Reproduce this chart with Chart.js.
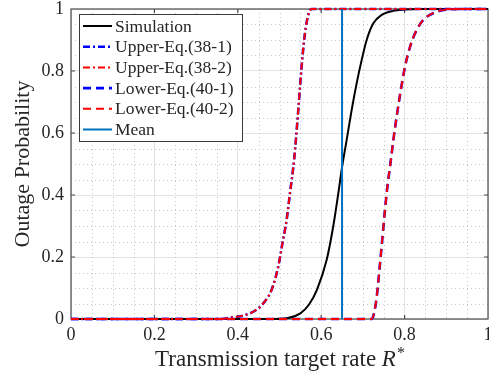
<!DOCTYPE html>
<html>
<head>
<meta charset="utf-8">
<script src="https://cdn.jsdelivr.net/npm/chart.js@4.4.0/dist/chart.umd.min.js"></script>
<style>
  html, body { margin: 0; padding: 0; background: #fff; }
  #chart { display: block; }
</style>
</head>
<body>
<canvas id="chart" width="489" height="376"></canvas>
<script>
// values
const simX = [0, 0.48, 0.52, 0.55, 0.57, 0.59, 0.613, 0.629, 0.641, 0.65, 0.661, 0.673, 0.685, 0.697, 0.709, 0.725, 0.745, 0.773, 0.8, 0.83, 1];
const simY = [0, 0, 0.003, 0.018, 0.045, 0.095, 0.19, 0.3, 0.405, 0.49, 0.577, 0.674, 0.76, 0.835, 0.9, 0.954, 0.981, 0.994, 0.998, 1, 1];
const upperX = [0, 0.36, 0.381, 0.41, 0.429, 0.445, 0.461, 0.481, 0.497, 0.507, 0.517, 0.525, 0.535, 0.545, 0.553, 0.561, 0.569, 0.577, 1];
const upperY = [0, 0, 0.004, 0.01, 0.018, 0.03, 0.05, 0.094, 0.169, 0.244, 0.319, 0.405, 0.513, 0.674, 0.814, 0.921, 0.981, 1, 1];
const lowerX = [0, 0.721, 0.727, 0.733, 0.739, 0.746, 0.753, 0.759, 0.765, 0.773, 0.781, 0.791, 0.801, 0.813, 0.827, 0.845, 0.877, 0.909, 0.94, 1];
const lowerY = [0, 0, 0.02, 0.07, 0.15, 0.25, 0.352, 0.43, 0.491, 0.577, 0.653, 0.739, 0.814, 0.878, 0.927, 0.965, 0.991, 0.999, 1, 1];
const meanRate = 0.65;
const seriesNames = ['Simulation', 'Upper-Eq.(38-1)', 'Upper-Eq.(38-2)', 'Lower-Eq.(40-1)', 'Lower-Eq.(40-2)', 'Mean'];
const xTitleParts = ['Transmission target rate ', 'R', '*'];
const yTitle = 'Outage Probability';

const SERIF = '"Liberation Serif", "DejaVu Serif", serif';
const dashDot = [7, 3, 2, 3];
const dashed = [8, 5];

function toPoints(xs, ys) {
    return xs.map((x, i) => ({x: x, y: ys[i]}));
}

function tickText(v) {
    return String(Number(v.toFixed(2)));
}

const frame = {
    id: 'frame',
    beforeDatasetsDraw(chart) {
        const {ctx, chartArea: a, scales: {x, y}} = chart;
        ctx.save();
        // minor dotted grid
        ctx.strokeStyle = '#c8c8c8';
        ctx.lineWidth = 1;
        ctx.setLineDash([1, 3]);
        for (let i = 1; i < 20; i++) {
            if (i % 4 === 0) continue;
            const px = Math.round(x.getPixelForValue(i * 0.05)) + 0.5;
            const py = Math.round(y.getPixelForValue(i * 0.05)) + 0.5;
            ctx.beginPath();
            ctx.moveTo(px, a.top); ctx.lineTo(px, a.bottom);
            ctx.moveTo(a.left, py); ctx.lineTo(a.right, py);
            ctx.stroke();
        }
        ctx.setLineDash([]);
        // box and inward ticks
        ctx.strokeStyle = '#4a4a4a';
        ctx.lineWidth = 1.2;
        ctx.strokeRect(a.left, a.top, a.right - a.left, a.bottom - a.top);
        ctx.beginPath();
        for (let i = 1; i < 5; i++) {
            const px = x.getPixelForValue(i * 0.2);
            const py = y.getPixelForValue(i * 0.2);
            ctx.moveTo(px, a.bottom); ctx.lineTo(px, a.bottom - 4);
            ctx.moveTo(px, a.top); ctx.lineTo(px, a.top + 4);
            ctx.moveTo(a.left, py); ctx.lineTo(a.left + 4, py);
            ctx.moveTo(a.right, py); ctx.lineTo(a.right - 4, py);
        }
        ctx.stroke();
        ctx.restore();
    },
    afterDatasetsDraw(chart) {
        const ctx = chart.ctx;
        const sets = chart.data.datasets;
        const bx = 79, by = 14, bw = 163, bh = 127;
        ctx.save();
        ctx.fillStyle = '#fff';
        ctx.fillRect(bx, by, bw, bh);
        ctx.strokeStyle = '#3a3a3a';
        ctx.lineWidth = 1;
        ctx.strokeRect(bx + 0.5, by + 0.5, bw, bh);
        ctx.font = '17.5px ' + SERIF;
        ctx.textBaseline = 'middle';
        ctx.fillStyle = '#262626';
        sets.forEach((ds, i) => {
            const ly = 26 + i * 20.7;
            ctx.strokeStyle = ds.borderColor;
            ctx.lineWidth = ds.borderWidth;
            ctx.setLineDash(ds.borderDash || []);
            ctx.beginPath();
            ctx.moveTo(83, ly); ctx.lineTo(112, ly);
            ctx.stroke();
            ctx.setLineDash([]);
            ctx.fillText(ds.label, 115, ly + 1);
        });
        ctx.restore();
    },
    afterDraw(chart) {
        const ctx = chart.ctx;
        const a = chart.chartArea;
        ctx.save();
        ctx.fillStyle = '#262626';
        ctx.textBaseline = 'alphabetic';
        const f1 = '23px ' + SERIF, f2 = 'italic 23px ' + SERIF, f3 = '16px ' + SERIF;
        ctx.font = f1; const w1 = ctx.measureText(xTitleParts[0]).width;
        ctx.font = f2; const w2 = ctx.measureText(xTitleParts[1]).width;
        ctx.font = f3; const w3 = ctx.measureText(xTitleParts[2]).width;
        let tx = (a.left + a.right) / 2 - (w1 + w2 + w3) / 2;
        ctx.font = f1; ctx.fillText(xTitleParts[0], tx, 366); tx += w1;
        ctx.font = f2; ctx.fillText(xTitleParts[1], tx, 366); tx += w2 + 1;
        ctx.font = f3; ctx.fillText(xTitleParts[2], tx, 358);
        ctx.restore();
    }
};

const datasets = [
    {label: seriesNames[0], data: toPoints(simX, simY), borderColor: '#000000', borderWidth: 2, order: 6},
    {label: seriesNames[1], data: toPoints(upperX, upperY), borderColor: '#0000ff', borderWidth: 2.6, borderDash: dashDot, order: 5},
    {label: seriesNames[2], data: toPoints(upperX, upperY), borderColor: '#ff0000', borderWidth: 2, borderDash: dashDot, order: 4},
    {label: seriesNames[3], data: toPoints(lowerX, lowerY), borderColor: '#0000ff', borderWidth: 2.6, borderDash: dashed, order: 3},
    {label: seriesNames[4], data: toPoints(lowerX, lowerY), borderColor: '#ff0000', borderWidth: 2, borderDash: dashed, order: 2},
    {label: seriesNames[5], data: [{x: meanRate, y: 0}, {x: meanRate, y: 1}], borderColor: '#0072BD', borderWidth: 2, order: 1}
];
datasets.forEach(ds => {
    ds.pointRadius = 0;
    ds.fill = false;
    ds.clip = false;
    ds.cubicInterpolationMode = 'monotone';
});

new Chart(document.getElementById('chart'), {
    type: 'line',
    data: {datasets: datasets},
    options: {
        responsive: false,
        animation: false,
        events: [],
        layout: {autoPadding: false, padding: {top: 9, right: 1, left: 0, bottom: 0}},
        plugins: {legend: {display: false}, tooltip: {enabled: false}},
        scales: {
            x: {
                type: 'linear', min: 0, max: 1,
                ticks: {stepSize: 0.2, padding: 5, color: '#262626', font: {family: SERIF, size: 18}, maxRotation: 0, callback: tickText},
                grid: {color: '#e3e3e3', lineWidth: 1, drawTicks: false},
                border: {display: false},
                afterFit(scale) {
                    scale.height = 57;
                    scale.paddingLeft = 0;
                    scale.paddingRight = 0;
                }
            },
            y: {
                type: 'linear', min: 0, max: 1,
                ticks: {stepSize: 0.2, padding: 7, color: '#262626', font: {family: SERIF, size: 18}, callback: tickText},
                grid: {color: '#e3e3e3', lineWidth: 1, drawTicks: false},
                border: {display: false},
                title: {display: true, text: yTitle, color: '#262626', font: {family: SERIF, size: 22, lineHeight: 1}, padding: {top: 12, bottom: 0}},
                afterFit(scale) {
                    scale.width = 71;
                    scale.paddingTop = 0;
                    scale.paddingBottom = 0;
                }
            }
        }
    },
    plugins: [frame]
});
</script>
</body>
</html>
